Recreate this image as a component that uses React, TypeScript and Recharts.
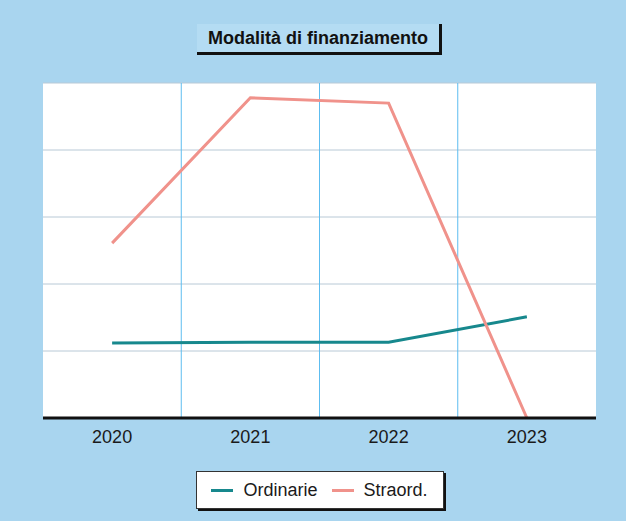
import { LineChart, Line, XAxis, YAxis, CartesianGrid, Legend } from 'recharts'

const years = ['2020', '2021', '2022', '2023']
const ordinarie = [1.12, 1.13, 1.13, 1.51]
const straord = [2.61, 4.78, 4.7, 0]
const yTicks = [0, 1, 2, 3, 4, 5]

const chartData = years.map((year, i) => ({
  x: i,
  year,
  ordinarie: ordinarie[i],
  straord: straord[i],
}))

const TEAL = '#17888d'
const SALMON = '#f0928b'
const BG = '#a9d5ef'

function LegendBox() {
  const items = [
    { name: 'Ordinarie', color: TEAL },
    { name: 'Straord.', color: SALMON },
  ]
  return (
    <div style={{ display: 'flex', justifyContent: 'center' }}>
      <div
        style={{
          display: 'flex',
          alignItems: 'center',
          gap: 14,
          background: '#fff',
          border: '1px solid #333',
          boxShadow: '2px 2px 0 #111',
          padding: '8px 10px',
          width: 226,
          height: 20,
          justifyContent: 'center',
        }}
      >
        {items.map(item => (
          <div key={item.name} style={{ display: 'flex', alignItems: 'center', gap: 10 }}>
            <div style={{ width: 22, height: 3, background: item.color }} />
            <span style={{ fontSize: 18, color: '#1a1a1a' }}>{item.name}</span>
          </div>
        ))}
      </div>
    </div>
  )
}

export default function App() {
  return (
    <div
      style={{
        position: 'fixed',
        left: 0,
        top: 0,
        width: 626,
        height: 521,
        background: BG,
        fontFamily: 'Liberation Sans, Arial, sans-serif',
      }}
    >
      {/* titolo */}
      <div
        style={{
          position: 'absolute',
          left: 197,
          top: 24,
          width: 242,
          height: 28,
          background: '#b4dcf3',
          borderRight: '3px solid #111',
          borderBottom: '3px solid #111',
          display: 'flex',
          alignItems: 'center',
          justifyContent: 'center',
          fontWeight: 'bold',
          fontSize: 18,
          color: '#111',
        }}
      >
        Modalità di finanziamento
      </div>
      <LineChart
        width={626}
        height={521}
        data={chartData}
        margin={{ top: 83, right: 30, bottom: 35, left: 43 }}
      >
        <CartesianGrid
          fill="#ffffff"
          stroke="#b8c9d6"
          horizontal={true}
          vertical={false}
        />
        <CartesianGrid
          stroke="#5dbdf0"
          horizontal={false}
          verticalCoordinatesGenerator={({ offset }: any) => [
            offset.left + offset.width * 0.25,
            offset.left + offset.width * 0.5,
            offset.left + offset.width * 0.75,
          ]}
        />
        <XAxis
          dataKey="x"
          type="number"
          domain={[-0.5, 3.5]}
          ticks={[0, 1, 2, 3]}
          tickFormatter={(v: number) => years[v]}
          axisLine={{ stroke: '#111', strokeWidth: 3 }}
          tickLine={false}
          tick={{ fill: '#1a1a1a', fontSize: 18 }}
          tickMargin={6}
          height={30}
        />
        <YAxis hide domain={[0, 5]} ticks={yTicks} />
        <Legend
          verticalAlign="bottom"
          wrapperStyle={{ bottom: 12 }}
          content={() => <LegendBox />}
        />
        <Line
          dataKey="ordinarie"
          stroke={TEAL}
          strokeWidth={3}
          dot={false}
          isAnimationActive={false}
        />
        <Line
          dataKey="straord"
          stroke={SALMON}
          strokeWidth={3}
          dot={false}
          isAnimationActive={false}
        />
      </LineChart>
    </div>
  )
}
